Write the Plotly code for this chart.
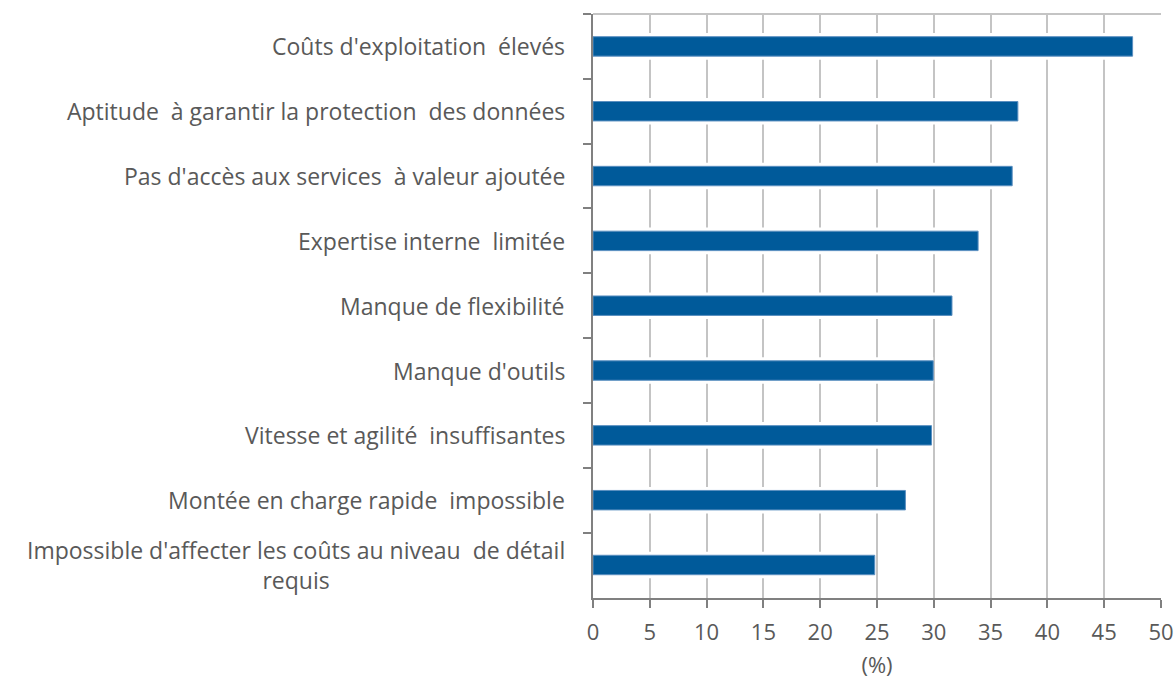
import plotly.graph_objects as go

categories = [
    "Coûts d'exploitation  élevés",
    "Aptitude  à garantir la protection  des données",
    "Pas d'accès aux services  à valeur ajoutée",
    "Expertise interne  limitée",
    "Manque de flexibilité",
    "Manque d'outils",
    "Vitesse et agilité  insuffisantes",
    "Montée en charge rapide  impossible",
    "Impossible d'affecter les coûts au niveau  de détail<br>requis",
]
values = [47.5, 37.4, 36.9, 33.9, 31.6, 29.95, 29.8, 27.5, 24.8]
x_ticks = list(range(0, 51, 5))

TXT = "#595959"
FONT = "Open Sans"
FS = 23

fig = go.Figure()
# white halo behind bars (interrupts gridlines as in the original)
fig.add_trace(go.Bar(
    y=categories, x=values, orientation="h", width=0.41,
    marker=dict(color="white", line=dict(width=0)),
    hoverinfo="skip",
))
fig.add_trace(go.Bar(
    y=categories, x=values, orientation="h", width=0.3,
    marker=dict(color="#005A9A", line=dict(color="#5A8FC0", width=1)),
    hoverinfo="x+y",
))

for c in categories:
    fig.add_annotation(
        x=0, xref="paper", y=c, yref="y",
        text=c, showarrow=False, xanchor="right", yanchor="middle",
        xshift=-26, align="center",
        font=dict(family=FONT, size=FS, color=TXT),
    )

fig.add_shape(type="line", xref="paper", yref="paper", x0=0, x1=1, y0=1, y1=1,
              line=dict(color="#C4C4C4", width=2), layer="below")

fig.update_layout(
    width=1175, height=679,
    margin=dict(l=593, r=14, t=14, b=81, autoexpand=False),
    plot_bgcolor="white", paper_bgcolor="white",
    showlegend=False,
    barmode="overlay",
    font=dict(family=FONT, size=FS, color=TXT),
    xaxis=dict(
        range=[0, 50], tickvals=x_ticks, ticktext=[str(v) for v in x_ticks],
        showgrid=True, gridcolor="#C4C4C4", gridwidth=2,
        showline=True, linecolor="#808080", linewidth=2,
        ticks="outside", ticklen=8, tickcolor="#808080", tickwidth=2,
        ticklabelstandoff=6,
        tickfont=dict(family=FONT, size=22, color=TXT),
        title=dict(text="(%)", font=dict(family=FONT, size=22, color=TXT), standoff=17),
        zeroline=False, automargin=False,
    ),
    yaxis=dict(
        autorange="reversed",
        showticklabels=False,
        showgrid=False,
        showline=True, linecolor="#808080", linewidth=2,
        ticks="outside", ticklen=8, tickcolor="#808080", tickwidth=2,
        tickson="boundaries", automargin=False,
    ),
)

fig.write_html("out.html")
